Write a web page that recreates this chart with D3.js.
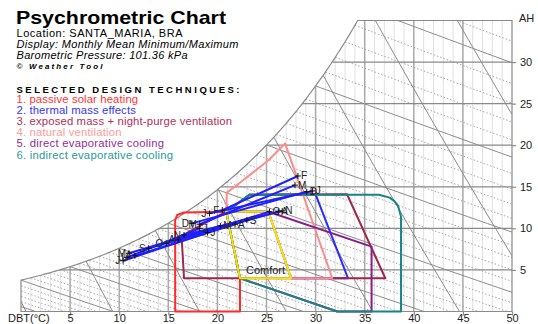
<!DOCTYPE html>
<html><head><meta charset="utf-8">
<script src="https://cdn.jsdelivr.net/npm/d3@7"></script>
<style>body{margin:0;background:#fff}svg{display:block;font-family:Arial,"Liberation Sans",sans-serif}</style>
</head><body><svg id="c" width="538" height="324"></svg>
<script>
// ---------- data ----------
const months = ["J","F","M","A","M","J","J","A","S","O","N","D"];
const tMin  = [19.2, 20.5, 18.2, 16.0, 11.0, 10.8, 10.4, 11.6, 13.0, 14.8, 16.6, 17.4];
const ahMin = [11.8, 12.2, 10.5, 8.6, 7.0, 6.5, 6.1, 6.7, 7.6, 8.2, 9.2, 10.6];
const tMax  = [29.7, 28.2, 27.9, 26.2, 20.3, 18.2, 19.0, 21.8, 23.0, 25.3, 26.6, 29.1];
const ahMax = [14.5, 16.3, 15.2, 12.0, 10.3, 10.0, 9.5, 10.5, 11.0, 12.0, 12.1, 14.4];

const xTicks = [5,10,15,20,25,30,35,40,45,50];
const ahTicks = [5,10,15,20,25,30];

const techniques = ["1. passive solar heating","2. thermal mass effects","3. exposed mass + night-purge ventilation",
  "4. natural ventilation","5. direct evaporative cooling","6. indirect evaporative cooling"];

// zone outlines as [DBT, AH] pairs
const comfortZone   = [[20.9,12.0],[25.2,12.0],[27.5,4.0],[22.3,4.0]];
const passiveSolar  = [[15.7,0],[15.7,11.0],[15.9,11.6],[16.6,11.9],[20.9,12.0],[22.3,4.0],[22.3,0]];
const thermalMass   = [[20.9,12.0],[23.3,14.05],[30.0,14.1],[33.3,4.0],[27.5,4.0],[25.2,12.0]];
const nightPurge    = [[20.9,12.0],[16.35,9.1],[16.6,4.0],[37.1,4.0],[33.2,14.1],[23.3,14.05]];
const naturalVent   = [[20.9,12.0],[20.95,14.3],[22.2,15.4],[23.6,16.7],[25.2,18.2],[26.9,20.2],[31.7,4.0],[27.5,4.0],[25.2,12.0]];
const directEvap    = [[25.2,12.0],[35.7,7.8],[35.7,0],[32.2,0],[22.3,4.0],[20.9,12.0]];
const indirectEvap  = [[20.9,12.0],[23.3,14.05],[36.45,14.05],[37.55,13.7],[38.05,13.25],[38.4,12.7],[38.7,11.4],[38.7,0],[32.2,0],[22.3,4.0]];

// ---------- setup ----------
const svg = d3.select("#c");
svg.append("rect").attr("width",538).attr("height",324).attr("fill","#fff");
const x = d3.scaleLinear().domain([0,50]).range([21,512]);
const y = d3.scaleLinear().domain([0,35]).range([311.5,20.5]);
const line = d3.line().x(d=>x(d[0])).y(d=>y(d[1]));

const P = 101.36;
const pws = t => 0.61094*Math.exp(17.625*t/(t+243.04));
const wsat = t => { const p = pws(t); return 622*p/(P-p); };
const wWB = (t,twb) => 1000*((2501-2.326*twb)*wsat(twb)/1000 - 1.006*(t-twb))/(2501+1.86*t-4.186*twb);
const wVol = (t,v) => 1000*(v*P/(0.287042*(t+273.15)) - 1)/1.6078;

let lo=0, hi=50; for(let i=0;i<60;i++){const m=(lo+hi)/2; if(wsat(m)<35) lo=m; else hi=m;}
const tTop = lo;
const sat = d3.range(0,tTop,0.2).map(t=>[t,wsat(t)]).concat([[tTop,35]]);
const region = [[0,0]].concat(sat,[[50,35],[50,0]]);

svg.append("defs").append("clipPath").attr("id","clip").append("path").attr("d",line(region)+"Z");
const grid = svg.append("g").attr("clip-path","url(#clip)");

// vertical DBT lines
d3.range(1,50).forEach(t=>{
  const solid = t%5===0;
  grid.append("line").attr("x1",x(t)).attr("x2",x(t)).attr("y1",y(0)).attr("y2",y(35))
    .attr("stroke", solid?"#a9a9a9":"#c2c2c2").attr("stroke-width", solid?1.5:1)
    .attr("stroke-dasharray", solid?null:"1,1");
});
// wet bulb lines
d3.range(-5,43).forEach(twb=>{
  const solid = twb%5===0;
  const pts = d3.range(Math.max(twb,-5),50.01,0.5).map(t=>[t,wWB(t,twb)]);
  grid.append("path").attr("d",line(pts)).attr("fill","none")
    .attr("stroke", solid?"#8a8a8a":"#a4a4a4").attr("stroke-width",1)
    .attr("stroke-dasharray", solid?null:"1.5,2");
});
// specific volume lines
d3.range(0.775,0.951,0.025).forEach(v=>{
  const pts = d3.range(0,50.01,0.5).map(t=>[t,wVol(t,v)]);
  grid.append("path").attr("d",line(pts)).attr("fill","none").attr("stroke","#8a8a8a").attr("stroke-width",1);
});
// horizontal AH lines
ahTicks.forEach(w=>{
  grid.append("line").attr("x1",x(0)).attr("x2",x(50)).attr("y1",y(w)).attr("y2",y(w))
    .attr("stroke","#8a8a8a").attr("stroke-width",1.2);
});
// boundary
svg.append("path").attr("d",line(region)+"Z").attr("fill","none").attr("stroke","#8a8a8a").attr("stroke-width",1.2);

// axes
const xa = svg.append("g").attr("transform",`translate(0,${y(0)})`)
  .call(d3.axisBottom(x).tickValues(xTicks).tickSize(4).tickPadding(3));
const ya = svg.append("g").attr("transform",`translate(${x(50)},0)`)
  .call(d3.axisRight(y).tickValues(ahTicks).tickSize(4).tickPadding(4));
[xa,ya].forEach(a=>{
  a.select(".domain").remove();
  a.selectAll(".tick line").attr("stroke","#8a8a8a").attr("stroke-width",1.2);
  a.selectAll("text").attr("font-size",11).attr("fill","#222").attr("font-family","Arial");
});
xa.selectAll("text").attr("y",10.5).attr("dy",null);
svg.append("text").attr("x",8).attr("y",322).attr("font-size",11).attr("fill","#222").text("DBT(°C)");
svg.append("text").attr("x",519).attr("y",22).attr("font-size",11).attr("fill","#222").text("AH");

// zones
const zones = [
  [passiveSolar,"#ff2a2a"],[thermalMass,"#2a2aff"],[nightPurge,"#a0264c"],
  [naturalVent,"#ff8c8c"],[directEvap,"#8a1d8a"],[indirectEvap,"#178585"],[comfortZone,"#f5e600"]
];
zones.forEach(([pts,col])=>{
  svg.append("path").attr("d",line(pts)+"Z").attr("fill","none").attr("stroke",col)
    .attr("stroke-width",2).attr("stroke-linejoin","round");
});
svg.append("text").attr("x",x(24.9)).attr("y",y(4.5)).attr("text-anchor","middle")
  .attr("font-size",11).attr("fill","#222").text("Comfort");

// monthly lines
const mg = svg.append("g");
months.forEach((m,i)=>{
  mg.append("line").attr("x1",x(tMin[i])).attr("y1",y(ahMin[i])).attr("x2",x(tMax[i])).attr("y2",y(ahMax[i]))
    .attr("stroke","#1f1fff").attr("stroke-width",2);
});
months.forEach((m,i)=>{
  [[tMin[i],ahMin[i],-1],[tMax[i],ahMax[i],1]].forEach(([t,w,s])=>{
    const cx=x(t), cy=y(w);
    mg.append("path").attr("d",`M${cx-3},${cy}H${cx+3}M${cx},${cy-3}V${cy+3}`).attr("stroke","#111").attr("stroke-width",1);
    mg.append("text").attr("x",cx+s*3).attr("y",cy+3.5).attr("text-anchor",s<0?"end":"start")
      .attr("font-size",10).attr("fill","#222").text(m);
  });
});

// header
const hd = svg.append("g").attr("fill","#000");
hd.append("text").attr("x",16).attr("y",24).attr("font-size",19).attr("font-weight","bold")
  .attr("textLength",210).attr("lengthAdjust","spacingAndGlyphs").text("Psychrometric Chart");
hd.append("text").attr("x",16.5).attr("y",36.5).attr("font-size",11).attr("textLength",166).text("Location: SANTA_MARIA, BRA");
hd.append("text").attr("x",16.5).attr("y",47.5).attr("font-size",11).attr("font-style","italic").attr("textLength",222).text("Display: Monthly Mean Minimum/Maximum");
hd.append("text").attr("x",16.5).attr("y",58.5).attr("font-size",11).attr("font-style","italic").attr("textLength",171).text("Barometric Pressure: 101.36 kPa");
hd.append("text").attr("x",16.5).attr("y",68.5).attr("font-size",8).attr("font-style","italic").attr("font-weight","bold")
  .attr("textLength",86).text("© Weather Tool");
hd.append("text").attr("x",16.5).attr("y",92.5).attr("font-size",9.5).attr("font-weight","bold").attr("textLength",223).text("SELECTED DESIGN TECHNIQUES:");
const tColors = ["#ff3535","#3535ff","#b0305a","#ff9a9a","#952d95","#2a9a96"];
const tWidths = [121.6,119.3,215.6,105,147.6,156.6];
techniques.forEach((t,i)=>{
  hd.append("text").attr("x",16.5).attr("y",103+i*11.1).attr("font-size",11.3).attr("fill",tColors[i])
    .attr("textLength",tWidths[i]).text(t);
});
</script></body></html>
